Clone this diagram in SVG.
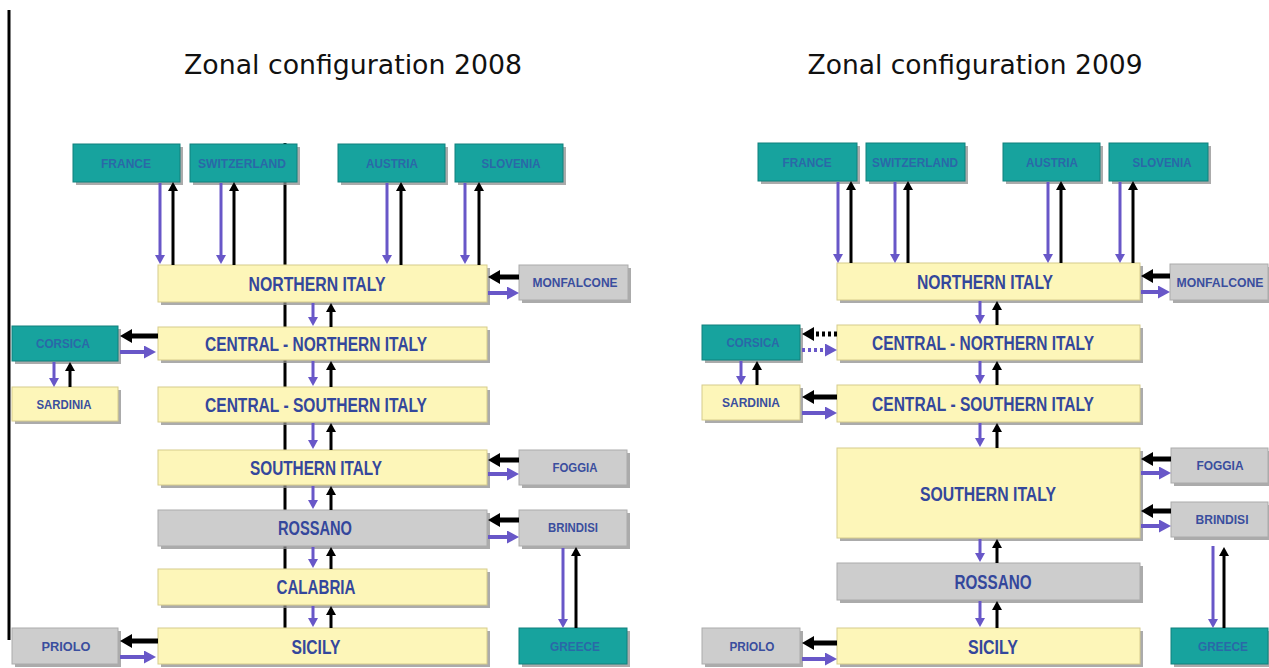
<svg xmlns="http://www.w3.org/2000/svg" width="1269" height="668" viewBox="0 0 1269 668">
<style>
.bg{fill:#ffffff}
.sh{fill:#8f8f8f;opacity:0.75}
.y{fill:#fdf6b9;stroke:#d6cc8c;stroke-width:1}
.t{fill:#17a39e;stroke:#11807c;stroke-width:1}
.g{fill:#cdcdcd;stroke:#ababab;stroke-width:1}
.title{font-family:"DejaVu Sans",Verdana,sans-serif;font-size:27px;fill:#111111}
.L{font-family:"Liberation Sans",Arial,sans-serif;font-weight:bold;font-size:20px;fill:#34479c;text-anchor:middle}
.s{font-family:"Liberation Sans",Arial,sans-serif;font-weight:bold;font-size:12.5px;text-anchor:middle}
.sy{fill:#3a4e9e}
.st{fill:#2a68a8}
.p{stroke:#6857c8;stroke-width:3;fill:none}
.k{stroke:#000000;stroke-width:3;fill:none}
.ph{stroke:#6857c8;stroke-width:4;fill:none}
.kh{stroke:#000000;stroke-width:5;fill:none}
.d{stroke-dasharray:3 3}
.rule{stroke:#000000;stroke-width:3;fill:none}
</style>
<defs>
<marker id="vP" markerUnits="userSpaceOnUse" markerWidth="10" markerHeight="10" refX="0" refY="5" orient="auto"><path d="M0,0 L9,5 L0,10 z" fill="#6857c8"/></marker>
<marker id="vK" markerUnits="userSpaceOnUse" markerWidth="10" markerHeight="10" refX="0" refY="5" orient="auto"><path d="M0,0 L9,5 L0,10 z" fill="#000000"/></marker>
<marker id="hP" markerUnits="userSpaceOnUse" markerWidth="13" markerHeight="13" refX="0" refY="6.5" orient="auto"><path d="M0,0 L12,6.5 L0,13 z" fill="#6857c8"/></marker>
<marker id="hK" markerUnits="userSpaceOnUse" markerWidth="14" markerHeight="14" refX="0" refY="7" orient="auto"><path d="M0,0 L12,7 L0,14 z" fill="#000000"/></marker>
</defs>
<rect class="bg" x="0" y="0" width="1269" height="668"/>

<!-- titles & rules -->
<text class="title" x="353" y="74" text-anchor="middle" textLength="338" lengthAdjust="spacingAndGlyphs">Zonal configuration 2008</text>
<text class="title" x="975" y="74" text-anchor="middle" textLength="335" lengthAdjust="spacingAndGlyphs">Zonal configuration 2009</text>
<path class="rule" d="M9,10 L9,640"/>
<path class="rule" d="M285,143 L285,628"/>

<!-- ===== 2008 nodes ===== -->
<g id="l-france"><rect class="sh" x="76" y="147" width="107" height="38"/><rect class="t" x="73" y="144" width="107" height="38"/><text class="s st" x="126" y="168" textLength="50" lengthAdjust="spacingAndGlyphs">FRANCE</text></g>
<g id="l-switzerland"><rect class="sh" x="193" y="147" width="107" height="38"/><rect class="t" x="190" y="144" width="107" height="38"/><text class="s st" x="242" y="168" textLength="88" lengthAdjust="spacingAndGlyphs">SWITZERLAND</text></g>
<g id="l-austria"><rect class="sh" x="341" y="147" width="107" height="38"/><rect class="t" x="338" y="144" width="107" height="38"/><text class="s st" x="392" y="168" textLength="52" lengthAdjust="spacingAndGlyphs">AUSTRIA</text></g>
<g id="l-slovenia"><rect class="sh" x="458" y="147" width="108" height="38"/><rect class="t" x="455" y="144" width="108" height="38"/><text class="s st" x="511" y="168" textLength="59" lengthAdjust="spacingAndGlyphs">SLOVENIA</text></g>
<g id="l-northern"><rect class="sh" x="161" y="268" width="329" height="37"/><rect class="y" x="158" y="265" width="329" height="37"/><text class="L" x="317" y="291" textLength="137" lengthAdjust="spacingAndGlyphs">NORTHERN ITALY</text></g>
<g id="l-monfalcone"><rect class="sh" x="522" y="268" width="109" height="35"/><rect class="g" x="519" y="265" width="109" height="35"/><text class="s sy" x="575" y="287" textLength="85" lengthAdjust="spacingAndGlyphs">MONFALCONE</text></g>
<g id="l-cn"><rect class="sh" x="161" y="330" width="329" height="33"/><rect class="y" x="158" y="327" width="329" height="33"/><text class="L" x="316" y="351" textLength="222" lengthAdjust="spacingAndGlyphs">CENTRAL - NORTHERN ITALY</text></g>
<g id="l-corsica"><rect class="sh" x="15" y="329" width="106" height="35"/><rect class="t" x="12" y="326" width="106" height="35"/><text class="s st" x="63" y="348" textLength="54" lengthAdjust="spacingAndGlyphs">CORSICA</text></g>
<g id="l-sardinia"><rect class="sh" x="15" y="390" width="106" height="34"/><rect class="y" x="12" y="387" width="106" height="34"/><text class="s sy" x="64" y="409" textLength="55" lengthAdjust="spacingAndGlyphs">SARDINIA</text></g>
<g id="l-cs"><rect class="sh" x="161" y="390" width="329" height="35"/><rect class="y" x="158" y="387" width="329" height="35"/><text class="L" x="316" y="412" textLength="222" lengthAdjust="spacingAndGlyphs">CENTRAL - SOUTHERN ITALY</text></g>
<g id="l-southern"><rect class="sh" x="161" y="453" width="329" height="35"/><rect class="y" x="158" y="450" width="329" height="35"/><text class="L" x="316" y="475" textLength="132" lengthAdjust="spacingAndGlyphs">SOUTHERN ITALY</text></g>
<g id="l-foggia"><rect class="sh" x="522" y="453" width="108" height="35"/><rect class="g" x="519" y="450" width="108" height="35"/><text class="s sy" x="575" y="472" textLength="45" lengthAdjust="spacingAndGlyphs">FOGGIA</text></g>
<g id="l-rossano"><rect class="sh" x="161" y="513" width="329" height="36"/><rect class="g" x="158" y="510" width="329" height="36"/><text class="L" x="315" y="535" textLength="74" lengthAdjust="spacingAndGlyphs">ROSSANO</text></g>
<g id="l-brindisi"><rect class="sh" x="522" y="513" width="108" height="36"/><rect class="g" x="519" y="510" width="108" height="36"/><text class="s sy" x="573" y="532" textLength="50" lengthAdjust="spacingAndGlyphs">BRINDISI</text></g>
<g id="l-calabria"><rect class="sh" x="161" y="572" width="329" height="36"/><rect class="y" x="158" y="569" width="329" height="36"/><text class="L" x="316" y="594" textLength="79" lengthAdjust="spacingAndGlyphs">CALABRIA</text></g>
<g id="l-sicily"><rect class="sh" x="161" y="631" width="329" height="36"/><rect class="y" x="158" y="628" width="329" height="36"/><text class="L" x="316" y="654" textLength="49" lengthAdjust="spacingAndGlyphs">SICILY</text></g>
<g id="l-priolo"><rect class="sh" x="15" y="631" width="106" height="36"/><rect class="g" x="12" y="628" width="106" height="36"/><text class="s sy" x="66" y="651" textLength="49" lengthAdjust="spacingAndGlyphs">PRIOLO</text></g>
<g id="l-greece"><rect class="sh" x="522" y="631" width="108" height="36"/><rect class="t" x="519" y="628" width="108" height="36"/><text class="s st" x="575" y="651" textLength="50" lengthAdjust="spacingAndGlyphs">GREECE</text></g>

<!-- ===== 2009 nodes ===== -->
<g id="r-france"><rect class="sh" x="761" y="146" width="99" height="38"/><rect class="t" x="758" y="143" width="99" height="38"/><text class="s st" x="807" y="167" textLength="49" lengthAdjust="spacingAndGlyphs">FRANCE</text></g>
<g id="r-switzerland"><rect class="sh" x="869" y="146" width="99" height="38"/><rect class="t" x="866" y="143" width="99" height="38"/><text class="s st" x="915" y="167" textLength="86" lengthAdjust="spacingAndGlyphs">SWITZERLAND</text></g>
<g id="r-austria"><rect class="sh" x="1006" y="146" width="97" height="38"/><rect class="t" x="1003" y="143" width="97" height="38"/><text class="s st" x="1052" y="167" textLength="52" lengthAdjust="spacingAndGlyphs">AUSTRIA</text></g>
<g id="r-slovenia"><rect class="sh" x="1112" y="146" width="99" height="38"/><rect class="t" x="1109" y="143" width="99" height="38"/><text class="s st" x="1162" y="167" textLength="59" lengthAdjust="spacingAndGlyphs">SLOVENIA</text></g>
<g id="r-northern"><rect class="sh" x="840" y="266" width="303" height="37"/><rect class="y" x="837" y="263" width="303" height="37"/><text class="L" x="985" y="289" textLength="136" lengthAdjust="spacingAndGlyphs">NORTHERN ITALY</text></g>
<g id="r-monfalcone"><rect class="sh" x="1173" y="267" width="99" height="36"/><rect class="g" x="1170" y="264" width="98" height="36"/><text class="s sy" x="1220" y="287" textLength="87" lengthAdjust="spacingAndGlyphs">MONFALCONE</text></g>
<g id="r-corsica"><rect class="sh" x="705" y="328" width="98" height="35"/><rect class="t" x="702" y="325" width="98" height="35"/><text class="s st" x="753" y="347" textLength="53" lengthAdjust="spacingAndGlyphs">CORSICA</text></g>
<g id="r-cn"><rect class="sh" x="840" y="328" width="303" height="35"/><rect class="y" x="837" y="325" width="303" height="35"/><text class="L" x="983" y="350" textLength="222" lengthAdjust="spacingAndGlyphs">CENTRAL - NORTHERN ITALY</text></g>
<g id="r-sardinia"><rect class="sh" x="705" y="388" width="98" height="35"/><rect class="y" x="702" y="385" width="98" height="35"/><text class="s sy" x="751" y="407" textLength="58" lengthAdjust="spacingAndGlyphs">SARDINIA</text></g>
<g id="r-cs"><rect class="sh" x="840" y="388" width="303" height="37"/><rect class="y" x="837" y="385" width="303" height="37"/><text class="L" x="983" y="411" textLength="222" lengthAdjust="spacingAndGlyphs">CENTRAL - SOUTHERN ITALY</text></g>
<g id="r-southern"><rect class="sh" x="840" y="451" width="303" height="90"/><rect class="y" x="837" y="448" width="303" height="90"/><text class="L" x="988" y="501" textLength="136" lengthAdjust="spacingAndGlyphs">SOUTHERN ITALY</text></g>
<g id="r-foggia"><rect class="sh" x="1174" y="451" width="97" height="35"/><rect class="g" x="1171" y="448" width="97" height="35"/><text class="s sy" x="1220" y="470" textLength="47" lengthAdjust="spacingAndGlyphs">FOGGIA</text></g>
<g id="r-brindisi"><rect class="sh" x="1174" y="505" width="97" height="35"/><rect class="g" x="1171" y="502" width="97" height="35"/><text class="s sy" x="1222" y="524" textLength="53" lengthAdjust="spacingAndGlyphs">BRINDISI</text></g>
<g id="r-rossano"><rect class="sh" x="840" y="566" width="303" height="37"/><rect class="g" x="837" y="563" width="303" height="37"/><text class="L" x="993" y="589" textLength="77" lengthAdjust="spacingAndGlyphs">ROSSANO</text></g>
<g id="r-sicily"><rect class="sh" x="840" y="631" width="303" height="36"/><rect class="y" x="837" y="628" width="303" height="36"/><text class="L" x="993" y="654" textLength="50" lengthAdjust="spacingAndGlyphs">SICILY</text></g>
<g id="r-priolo"><rect class="sh" x="705" y="631" width="98" height="36"/><rect class="g" x="702" y="628" width="98" height="36"/><text class="s sy" x="752" y="651" textLength="45" lengthAdjust="spacingAndGlyphs">PRIOLO</text></g>
<g id="r-greece"><rect class="sh" x="1174" y="631" width="97" height="36"/><rect class="t" x="1171" y="628" width="97" height="36"/><text class="s st" x="1223" y="651" textLength="50" lengthAdjust="spacingAndGlyphs">GREECE</text></g>

<!-- ===== connectors ===== -->
<g id="connectors">
<!-- 2008 top -->
<path class="p" d="M160,183 L160,255" marker-end="url(#vP)"/>
<path class="k" d="M173,265 L173,191" marker-end="url(#vK)"/>
<path class="p" d="M221,183 L221,255" marker-end="url(#vP)"/>
<path class="k" d="M234,265 L234,191" marker-end="url(#vK)"/>
<path class="p" d="M387,183 L387,255" marker-end="url(#vP)"/>
<path class="k" d="M401,265 L401,191" marker-end="url(#vK)"/>
<path class="p" d="M465,183 L465,255" marker-end="url(#vP)"/>
<path class="k" d="M479,265 L479,191" marker-end="url(#vK)"/>
<!-- 2008 chain -->
<path class="p" d="M313,303 L313,317" marker-end="url(#vP)"/>
<path class="k" d="M331,327 L331,312" marker-end="url(#vK)"/>
<path class="p" d="M313,361 L313,377" marker-end="url(#vP)"/>
<path class="k" d="M331,387 L331,370" marker-end="url(#vK)"/>
<path class="p" d="M313,423 L313,440" marker-end="url(#vP)"/>
<path class="k" d="M331,450 L331,432" marker-end="url(#vK)"/>
<path class="p" d="M313,486 L313,500" marker-end="url(#vP)"/>
<path class="k" d="M331,510 L331,495" marker-end="url(#vK)"/>
<path class="p" d="M313,547 L313,559" marker-end="url(#vP)"/>
<path class="k" d="M331,569 L331,556" marker-end="url(#vK)"/>
<path class="p" d="M313,606 L313,618" marker-end="url(#vP)"/>
<path class="k" d="M331,628 L331,615" marker-end="url(#vK)"/>
<!-- 2008 sides -->
<path class="kh" d="M519,277 L500,277" marker-end="url(#hK)"/>
<path class="ph" d="M488,293 L507,293" marker-end="url(#hP)"/>
<path class="kh" d="M158,336 L132,336" marker-end="url(#hK)"/>
<path class="ph" d="M120,352 L144,352" marker-end="url(#hP)"/>
<path class="p" d="M54,362 L54,378" marker-end="url(#vP)"/>
<path class="k" d="M70,387 L70,371" marker-end="url(#vK)"/>
<path class="kh" d="M519,460 L500,460" marker-end="url(#hK)"/>
<path class="ph" d="M488,474 L507,474" marker-end="url(#hP)"/>
<path class="kh" d="M519,520 L500,520" marker-end="url(#hK)"/>
<path class="ph" d="M488,537 L507,537" marker-end="url(#hP)"/>
<path class="p" d="M563,548 L563,619" marker-end="url(#vP)"/>
<path class="k" d="M576,628 L576,556" marker-end="url(#vK)"/>
<path class="kh" d="M158,641 L132,641" marker-end="url(#hK)"/>
<path class="ph" d="M120,657 L144,657" marker-end="url(#hP)"/>
<!-- 2009 top -->
<path class="p" d="M838,182 L838,254" marker-end="url(#vP)"/>
<path class="k" d="M851,263 L851,190" marker-end="url(#vK)"/>
<path class="p" d="M895,182 L895,254" marker-end="url(#vP)"/>
<path class="k" d="M908,263 L908,190" marker-end="url(#vK)"/>
<path class="p" d="M1048,182 L1048,254" marker-end="url(#vP)"/>
<path class="k" d="M1061,263 L1061,190" marker-end="url(#vK)"/>
<path class="p" d="M1120,182 L1120,254" marker-end="url(#vP)"/>
<path class="k" d="M1133,263 L1133,190" marker-end="url(#vK)"/>
<!-- 2009 chain -->
<path class="p" d="M980,301 L980,315" marker-end="url(#vP)"/>
<path class="k" d="M997,325 L997,310" marker-end="url(#vK)"/>
<path class="p" d="M980,361 L980,375" marker-end="url(#vP)"/>
<path class="k" d="M997,385 L997,370" marker-end="url(#vK)"/>
<path class="p" d="M980,423 L980,438" marker-end="url(#vP)"/>
<path class="k" d="M997,448 L997,432" marker-end="url(#vK)"/>
<path class="p" d="M980,539 L980,553" marker-end="url(#vP)"/>
<path class="k" d="M997,563 L997,548" marker-end="url(#vK)"/>
<path class="p" d="M980,601 L980,618" marker-end="url(#vP)"/>
<path class="k" d="M997,628 L997,610" marker-end="url(#vK)"/>
<!-- 2009 sides -->
<path class="kh" d="M1170,276 L1153,276" marker-end="url(#hK)"/>
<path class="ph" d="M1141,292 L1158,292" marker-end="url(#hP)"/>
<path class="kh d" d="M837,334 L814,334" marker-end="url(#hK)"/>
<path class="ph d" d="M802,350 L825,350" marker-end="url(#hP)"/>
<path class="p" d="M741,361 L741,376" marker-end="url(#vP)"/>
<path class="k" d="M757,385 L757,370" marker-end="url(#vK)"/>
<path class="kh" d="M837,397 L814,397" marker-end="url(#hK)"/>
<path class="ph" d="M802,413 L825,413" marker-end="url(#hP)"/>
<path class="kh" d="M1171,459 L1153,459" marker-end="url(#hK)"/>
<path class="ph" d="M1141,473 L1159,473" marker-end="url(#hP)"/>
<path class="kh" d="M1171,511 L1153,511" marker-end="url(#hK)"/>
<path class="ph" d="M1141,526 L1159,526" marker-end="url(#hP)"/>
<path class="p" d="M1213,546 L1213,619" marker-end="url(#vP)"/>
<path class="k" d="M1224,628 L1224,556" marker-end="url(#vK)"/>
<path class="kh" d="M837,643 L814,643" marker-end="url(#hK)"/>
<path class="ph" d="M802,659 L825,659" marker-end="url(#hP)"/>
</g>
</svg>
